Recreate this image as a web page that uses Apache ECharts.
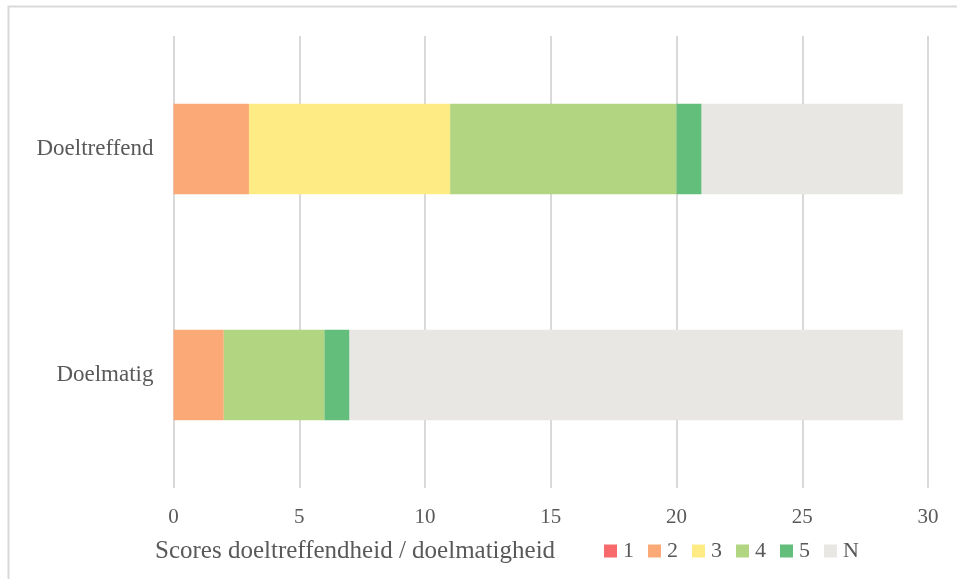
<!DOCTYPE html>
<html><head><meta charset="utf-8">
<script src="https://cdn.jsdelivr.net/npm/echarts@6/dist/echarts.min.js"></script>
<style>html,body{margin:0;padding:0;background:#fff}#c{width:957px;height:579px}</style>
</head><body><div id="c"></div>
<script>
var categories = ['Doeltreffend', 'Doelmatig'];
var seriesNames = ['1', '2', '3', '4', '5', 'N'];
var s1 = [0, 0];
var s2 = [3, 2];
var s3 = [8, 0];
var s4 = [9, 4];
var s5 = [1, 1];
var sN = [8, 22];
var xTicks = [0, 5, 10, 15, 20, 25, 30];
var colors = ['#F8696B', '#FBAA77', '#FFEB84', '#B1D580', '#63BE7B', '#E8E7E3'];
var legendTitle = 'Scores doeltreffendheid / doelmatigheid';

var allData = [s1, s2, s3, s4, s5, sN];
var font = '"Liberation Serif", "DejaVu Serif", serif';
var chart = echarts.init(document.getElementById('c'), null, {renderer: 'canvas'});
chart.setOption({
  animation: false,
  textStyle: {fontFamily: font},
  grid: {left: 173.5, right: 29, top: 36, bottom: 91, containLabel: false},
  xAxis: {
    type: 'value', min: xTicks[0], max: xTicks[xTicks.length - 1], interval: 5,
    axisLine: {show: false}, axisTick: {show: false},
    splitLine: {show: true, lineStyle: {color: '#d9d9d9', width: 2}},
    axisLabel: {color: '#595959', fontSize: 21, fontFamily: font, margin: 19}
  },
  yAxis: {
    type: 'category', data: categories, inverse: true,
    axisLine: {show: false}, axisTick: {show: false},
    axisLabel: {color: '#595959', fontSize: 23, fontFamily: font, margin: 20}
  },
  legend: {
    left: 604, top: 540, padding: 0, itemWidth: 13, itemHeight: 13, itemGap: 14,
    icon: 'rect',
    textStyle: {color: '#595959', fontSize: 22, fontFamily: font, padding: [0, 0, 0, 1]},
    data: seriesNames
  },
  graphic: [
    {type: 'rect', shape: {x: 8.5, y: 6.5, width: 1000, height: 1000}, style: {fill: 'none', stroke: '#d9d9d9', lineWidth: 2}, silent: true},
    {type: 'text', x: 155, y: 551, style: {text: legendTitle, fill: '#595959', font: '25px ' + font, verticalAlign: 'middle'}}
  ],
  series: seriesNames.map(function (n, i) {
    return {
      name: n, type: 'bar', stack: 'total', barWidth: '40%',
      itemStyle: {color: colors[i]},
      data: allData[i]
    };
  })
});
</script></body></html>
